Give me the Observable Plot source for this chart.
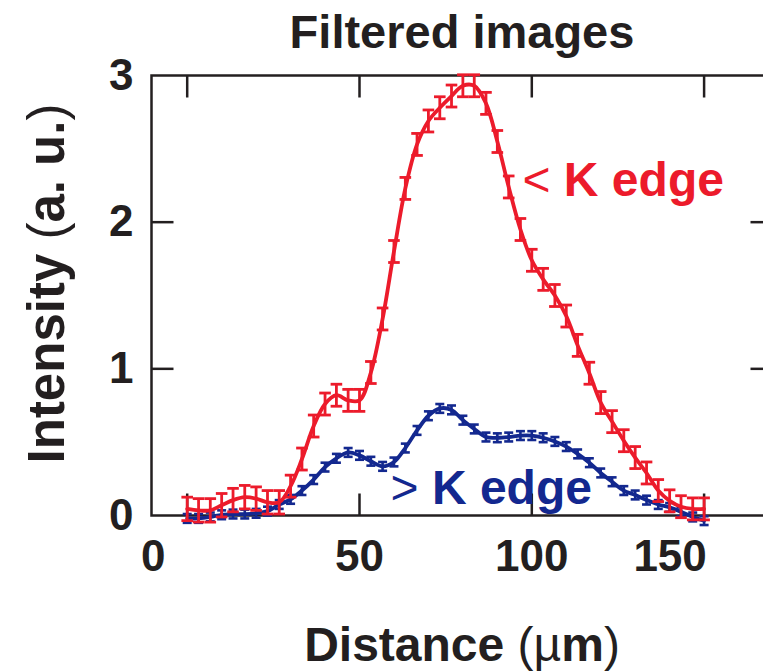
<!DOCTYPE html>
<html>
<head>
<meta charset="utf-8">
<script src="https://cdn.jsdelivr.net/npm/d3@7"></script>
<script src="https://cdn.jsdelivr.net/npm/@observablehq/plot@0.6"></script>
<style>
  html, body { margin: 0; padding: 0; background: #fff; overflow: hidden; }
</style>
</head>
<body>
<div id="chart"></div>
<script>
// ---- data ----
const distance = [0, 3.3, 6.7, 10, 13.3, 16.7, 20, 23.3, 26.7, 30, 33.3, 36.7, 40, 43.3, 46.7, 50,
  53.3, 56.7, 60, 63.3, 66.7, 70, 73.3, 76.7, 80, 83.3, 86.7, 90, 93.3, 96.7, 100,
  103.3, 106.7, 110, 113.3, 116.7, 120, 123.3, 126.7, 130, 133.3, 136.7, 140, 143.3, 146.7, 150];

const belowK = [0.045, 0.035, 0.035, 0.07, 0.105, 0.125, 0.115, 0.09, 0.09, 0.2, 0.385, 0.61, 0.76, 0.82, 0.785, 0.785,
  0.975, 1.34, 1.8, 2.23, 2.53, 2.69, 2.78, 2.86, 2.93, 2.93, 2.81, 2.55, 2.24, 1.95, 1.74,
  1.61, 1.5, 1.36, 1.16, 0.97, 0.77, 0.64, 0.51, 0.395, 0.29, 0.17, 0.1, 0.06, 0.045, 0.045];
const belowKErr = [0.08, 0.08, 0.08, 0.08, 0.08, 0.08, 0.08, 0.08, 0.08, 0.075, 0.075, 0.075, 0.075, 0.075, 0.075, 0.075,
  0.075, 0.075, 0.075, 0.075, 0.075, 0.075, 0.075, 0.075, 0.075, 0.075, 0.075, 0.075, 0.075, 0.075, 0.075,
  0.075, 0.075, 0.075, 0.075, 0.075, 0.075, 0.075, 0.075, 0.075, 0.075, 0.075, 0.075, 0.075, 0.075, 0.075];

const aboveK = [-0.02, -0.02, -0.01, 0.005, 0.01, 0.01, 0.015, 0.03, 0.075, 0.11, 0.17, 0.245, 0.33, 0.39, 0.43, 0.41,
  0.37, 0.335, 0.365, 0.46, 0.58, 0.68, 0.73, 0.72, 0.65, 0.59, 0.535, 0.53, 0.535, 0.545, 0.545,
  0.53, 0.505, 0.47, 0.42, 0.36, 0.29, 0.23, 0.17, 0.14, 0.105, 0.075, 0.055, 0.025, -0.01, -0.035];
const aboveKErr = [0.03, 0.03, 0.03, 0.03, 0.03, 0.03, 0.03, 0.03, 0.03, 0.03, 0.03, 0.03, 0.03, 0.03, 0.03, 0.03,
  0.03, 0.03, 0.03, 0.03, 0.03, 0.03, 0.03, 0.03, 0.03, 0.03, 0.03, 0.03, 0.03, 0.03, 0.03,
  0.03, 0.03, 0.03, 0.03, 0.03, 0.03, 0.03, 0.03, 0.03, 0.03, 0.03, 0.03, 0.03, 0.03, 0.03];

const xTicks = [0, 50, 100, 150];
const xTicksShifted = [0, 150];   // labels printed left of their ticks in the original
const xTicksCentered = [50, 100];
const yTicks = [0, 1, 2, 3];
const yInnerTicks = [1, 2];

const seriesLabelText = ["< K edge", "> K edge"];
const seriesLabelX = [97.3, 59.0];
const seriesLabelY = [2.28, 0.185];

const titleText = "Filtered images";
const xLabelText = "Distance (\u00b5m)";
const yLabelText = "Intensity (a. u.)";

// ---- build tables ----
const RED = "#ec1b2b";
const BLUE = "#13288f";
const INK = "#231f20";
const red = distance.map((x, i) => ({x, y: belowK[i], e: belowKErr[i]}));
const blue = distance.map((x, i) => ({x, y: aboveK[i], e: aboveKErr[i]}));
const labels = seriesLabelText.map((t, i) => ({t, x: seriesLabelX[i], y: seriesLabelY[i], c: i === 0 ? RED : BLUE}));

const xDomain = [-10.36, 169.85];

// custom symbols
const capSym = {draw(ctx, size) { const r = Math.sqrt(size / Math.PI); ctx.moveTo(-r, 0); ctx.lineTo(r, 0); }};
const T = 22;
const tickDown = {draw(ctx) { ctx.moveTo(0, 0); ctx.lineTo(0, T); }};
const tickUp = {draw(ctx) { ctx.moveTo(0, 0); ctx.lineTo(0, -T); }};
const tickRight = {draw(ctx) { ctx.moveTo(0, 0); ctx.lineTo(T, 0); }};
const tickLeft = {draw(ctx) { ctx.moveTo(0, 0); ctx.lineTo(-T, 0); }};

const font = "'Liberation Sans', Arial, Helvetica, sans-serif";

function errorMarks(data, color, capR, lw) {
  return [
    Plot.ruleX(data, {x: "x", y1: d => d.y - d.e, y2: d => d.y + d.e, stroke: color, strokeWidth: lw}),
    Plot.dot(data, {x: "x", y: d => d.y - d.e, symbol: capSym, r: capR, stroke: color, strokeWidth: lw, fill: "none"}),
    Plot.dot(data, {x: "x", y: d => d.y + d.e, symbol: capSym, r: capR, stroke: color, strokeWidth: lw, fill: "none"})
  ];
}

const chart = Plot.plot({
  width: 772,
  height: 671,
  marginLeft: 151,
  marginRight: 0,
  marginTop: 75,
  marginBottom: 156,
  x: {domain: xDomain},
  y: {domain: [0, 3]},
  style: {fontFamily: font, color: INK, background: "white", overflow: "visible"},
  marks: [
    Plot.frame({stroke: INK, strokeWidth: 2.5}),
    // inward ticks
    Plot.dot(xTicks, {x: d => d, y: 3, symbol: tickDown, stroke: INK, strokeWidth: 2.5}),
    Plot.dot(xTicks, {x: d => d, y: 0, symbol: tickUp, stroke: INK, strokeWidth: 2.5}),
    Plot.dot(yInnerTicks, {x: xDomain[0], y: d => d, symbol: tickRight, stroke: INK, strokeWidth: 2.5}),
    Plot.dot(yInnerTicks, {x: xDomain[1], y: d => d, symbol: tickLeft, stroke: INK, strokeWidth: 2.5}),
    // axes labels
    Plot.axisY(yTicks, {anchor: "left", tickSize: 0, tickPadding: 18, tickFormat: d => String(d), fontSize: 44, fontWeight: "bold", label: null, fill: INK}),
    Plot.axisX(xTicksCentered, {anchor: "bottom", tickSize: 0, tickPadding: 24, tickFormat: d => String(d), fontSize: 44, fontWeight: "bold", label: null, fill: INK}),
    Plot.axisX(xTicksShifted, {anchor: "bottom", tickSize: 0, tickPadding: 24, dx: -34, tickFormat: d => String(d), fontSize: 44, fontWeight: "bold", label: null, fill: INK}),
    // series
    ...errorMarks(blue, BLUE, 4.5, 2.6),
    Plot.line(blue, {x: "x", y: "y", stroke: BLUE, strokeWidth: 3.8, curve: "catmull-rom"}),
    ...errorMarks(red, RED, 5.8, 2.8),
    Plot.line(red, {x: "x", y: "y", stroke: RED, strokeWidth: 3.8, curve: "catmull-rom"}),
    // series labels
    Plot.text(labels, {x: "x", y: "y", text: "t", fill: "c", textAnchor: "start", lineAnchor: "middle", fontSize: 48, fontWeight: "bold"}),
    // titles
    Plot.text([titleText], {text: d => d, frameAnchor: "top", textAnchor: "middle", lineAnchor: "middle", dy: -43, fontSize: 47, fontWeight: "bold", fill: INK}),
    Plot.text([xLabelText], {text: d => d, frameAnchor: "bottom", textAnchor: "middle", lineAnchor: "middle", dy: 130, fontSize: 48, fontWeight: "bold", fill: INK}),
    Plot.text([yLabelText], {text: d => d, frameAnchor: "left", textAnchor: "middle", lineAnchor: "middle", rotate: -90, dx: -104, dy: -12, fontSize: 51, fontWeight: "bold", fill: INK})
  ]
});
chart.style.maxWidth = "none";
chart.style.height = "671px";

// mixed weights like the original (thin parentheses / symbols)
function restyle(svg, full, parts) {
  d3.select(svg).selectAll("text").filter(function () { return this.textContent === full; }).each(function () {
    const el = d3.select(this);
    el.text(null);
    for (const [s, w] of parts) el.append("tspan").attr("font-weight", w).text(s);
  });
}
restyle(chart, xLabelText, [["Distance ", "bold"], ["(", "normal"], ["\u00b5", "normal"], ["m", "bold"], [")", "normal"]]);
restyle(chart, yLabelText, [["Intensity ", "bold"], ["(", "normal"], ["a. u.", "bold"], [")", "normal"]]);
restyle(chart, "< K edge", [["<", "normal"], [" K edge", "bold"]]);
restyle(chart, "> K edge", [[">", "normal"], [" K edge", "bold"]]);

document.getElementById("chart").appendChild(chart);
</script>
</body>
</html>
